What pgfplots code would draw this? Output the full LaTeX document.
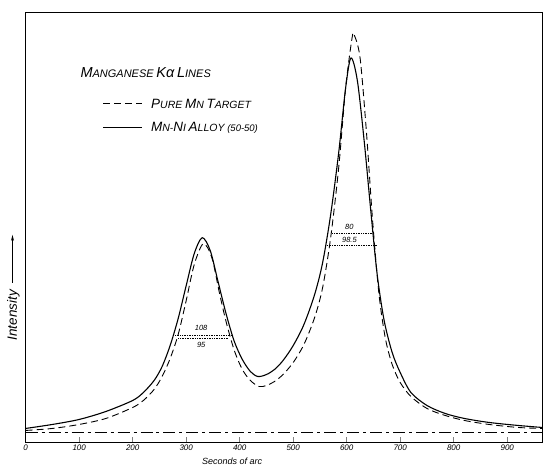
\documentclass[border=0pt]{standalone}
\usepackage{fontspec}
\setmainfont{Liberation Sans}
\usepackage{pgfplots}
\pgfplotsset{compat=1.18}
\usetikzlibrary{arrows.meta}
\newcommand{\BC}[1]{{\fontsize{14.5}{16}\selectfont #1}}
\newcommand{\SM}[1]{{\fontsize{11}{13}\selectfont #1}}
\newcommand{\bc}[1]{{\fontsize{13.5}{15}\selectfont #1}}
\newcommand{\sm}[1]{{\fontsize{10.5}{12}\selectfont #1}}

\begin{document}
\begin{tikzpicture}
\begin{axis}[
  width=517pt, height=431pt, scale only axis,
  xmin=0, xmax=965, ymin=0, ymax=431,
  axis line style={line width=0.9pt},
  xtick={0,100,...,900}, ytick=\empty,
  xtick pos=lower, tick align=inside, major tick length=5pt,
  tick style={line width=0.7pt},
  /pgf/number format/assume math mode=true,
  xticklabel style={font=\itshape\fontsize{8}{9}\selectfont, yshift=1pt},
  xlabel={\itshape Seconds of arc},
  x label style={at={(axis description cs:0.40,0)}, anchor=north, yshift=-12pt, font=\fontsize{9}{10}\selectfont},
  ylabel={\itshape\fontsize{13.5}{14}\selectfont Intensity\hspace{7pt}\tikz[baseline=-0.6ex]\draw[-{Stealth[length=6pt,width=3pt]}, line width=0.7pt] (0,0)--(48pt,0);},
  y label style={at={(axis description cs:-0.024,0.36)}, anchor=center},
  clip=false,
]
% baseline
\addplot[black, line width=0.8pt, dash pattern=on 12pt off 4pt on 3pt off 4pt] coordinates {(0,10) (965,10)};

% Mn-Ni alloy (solid)
\addplot[black, line width=1.1pt, smooth, tension=0.5] coordinates {
(0,14) (50,18) (100,23) (150,31) (200,42) (220,50) (240,62) (255,76) (270,97)
(285,124) (300,157) (315,189) (330,205) (345,192) (360,160) (375,128) (390,101)
(405,83) (420,71) (434,66) (450,68) (465,73) (481,82) (500,97) (520,118) (540,148)
(555,180) (570,228) (585,290) (598,355) (608,385) (620,362) (633,300) (645,232)
(657,168) (670,122) (685,90) (700,70) (720,50) (750,37) (784,29) (820,24)
(866,20) (920,17) (965,15)};

% Pure Mn (dashed)
\addplot[black, line width=0.9pt, dash pattern=on 7pt off 4pt, smooth, tension=0.5] coordinates {
(0,12) (50,14) (100,18) (150,24) (200,35) (220,42) (240,53) (255,66) (270,84)
(285,108) (300,142) (315,178) (332,199) (348,185) (362,150) (375,120) (390,92)
(405,73) (420,62) (436,56) (450,57) (465,61) (481,68) (500,80) (520,98) (540,125)
(555,155) (570,205) (585,275) (598,355) (610,405) (614,408) (625,385) (637,310)
(648,225) (660,150) (672,105) (685,78) (700,60) (720,46) (750,34) (784,27)
(820,22) (866,18) (920,15) (965,14)};

% width markers
\addplot[black, densely dotted, line width=0.7pt] coordinates {(276,107.5) (384,107.5)};
\addplot[black, densely dotted, line width=0.7pt] coordinates {(285,104.5) (380,104.5)};
\addplot[black, densely dotted, line width=0.7pt] coordinates {(573,209) (652,209)};
\addplot[black, densely dotted, line width=0.7pt] coordinates {(560,197.5) (658,197.5)};
\node[font=\itshape\fontsize{7.5}{8}\selectfont, anchor=south] at (axis cs:328,108.5) {108};
\node[font=\itshape\fontsize{7.5}{8}\selectfont, anchor=north] at (axis cs:328,103.5) {95};
\node[font=\itshape\fontsize{7.5}{8}\selectfont, anchor=south] at (axis cs:605,210) {80};
\node[font=\itshape\fontsize{7.5}{8}\selectfont] at (axis cs:605,203) {98.5};

% legend
\node[anchor=west, font=\itshape] at (axis cs:96,370) {\BC{M}\SM{ANGANESE} \BC{K}\BC{α} \BC{L}\SM{INES}};
\addplot[black, line width=0.9pt, dash pattern=on 7pt off 4pt] coordinates {(145,339) (217,339)};
\node[anchor=west, font=\itshape] at (axis cs:228,339) {\bc{P}\sm{URE} \bc{M}\sm{N} \bc{T}\sm{ARGET}};
\addplot[black, line width=1.1pt] coordinates {(145,315) (217,315)};
\node[anchor=west, font=\itshape] at (axis cs:228,315) {\bc{M}\sm{N}-\bc{N}\sm{I} \bc{A}\sm{LLOY} {\fontsize{9.5}{11}\selectfont(50-50)}};
\end{axis}
\path ([xshift=-25.7pt,yshift=-23pt]current axis.south west) rectangle ([xshift=2pt,yshift=12pt]current axis.north east);
\end{tikzpicture}
\end{document}
